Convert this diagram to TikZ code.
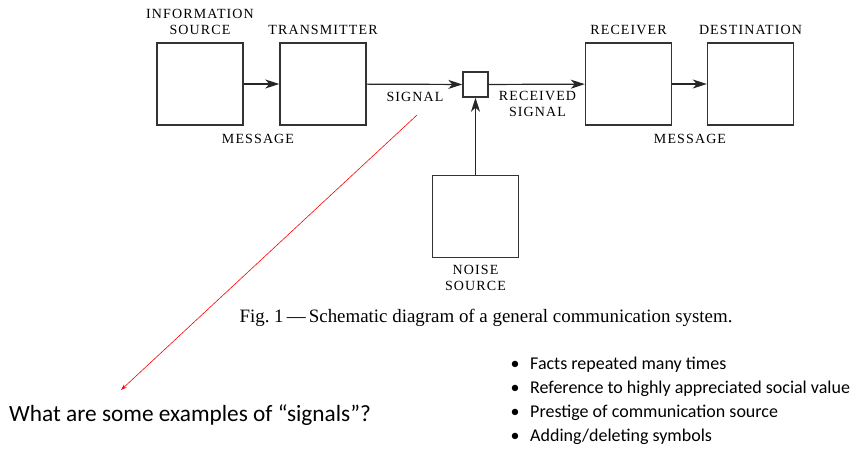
\documentclass[tikz,border=0pt]{standalone}
\usepackage{fontspec}
\setmainfont{Liberation Serif}
\newfontfamily\labelfont[LetterSpace=8]{Liberation Serif}
\newfontfamily\slidefont{Carlito}
\usetikzlibrary{arrows.meta, positioning}

\begin{document}
\begin{tikzpicture}[x = 1pt, y = -1pt,
        block/.style = {draw=black!80, line width=1.4pt, minimum width=86pt, minimum height=82pt, inner sep=0pt},
        junction/.style = {draw=black!80, line width=1.4pt, minimum size=25pt, inner sep=0pt},
        flow/.style = {draw=black!85, line width=1.2pt, -{Stealth[length=14pt, width=9pt, inset=4pt]}},
        caps/.style = {font=\labelfont\fontsize{14}{16}\selectfont, align=center, inner sep=0pt},
        point/.style = {font=\slidefont\fontsize{18}{21}\selectfont, inner sep=0pt}]

    \useasboundingbox (0,0) rectangle (856,463);

    % the blocks of the system
    \node[block] (source) at (200,84) {};
    \node[block] (transmitter) at (323,84) {};
    \node[junction] (channel) at (475.5,84.5) {};
    \node[block] (receiver) at (628.5,84) {};
    \node[block] (destination) at (750.5,84) {};
    \node[block] (noise) at (475.5,216.5) {};

    \node[caps, above=7pt of source] (sourcelabel) {INFORMATION\\SOURCE};
    \node[caps, above=7pt of transmitter] (transmitterlabel) {TRANSMITTER};
    \node[caps, above=7pt of receiver] (receiverlabel) {RECEIVER};
    \node[caps, above=7pt of destination] (destinationlabel) {DESTINATION};
    \node[caps, below=7pt of noise] (noiselabel) {NOISE\\SOURCE};

    \node[caps] (message) at (258,139) {MESSAGE};
    \node[caps] (signal) at (415,97) {SIGNAL};
    \node[caps] (received) at (537.5,103.5) {RECEIVED\\SIGNAL};
    \node[caps] (message2) at (690,139) {MESSAGE};

    \draw[flow] (source) -- (transmitter);
    \draw[flow] (transmitter) -- (channel);
    \draw[flow] (channel) -- (receiver);
    \draw[flow] (receiver) -- (destination);
    \draw[flow] (noise) -- (channel);

    \node[font=\fontsize{18.9}{22}\selectfont] (caption) at (486,318)
        {Fig.~1\,—\,Schematic diagram of a general communication system.};

    % question and the pointer to it
    \node[font=\slidefont\fontsize{23.3}{28}\selectfont, anchor=west, inner sep=0pt] (question) at (9,415)
        {What are some examples of “signals”?};
    \coordinate (pointer) at (417,115);
    \coordinate (tip) at (121,390);
    \draw[red, line width=0.6pt, -{Stealth[length=6pt, width=4pt]}] (pointer) -- (tip);

    \foreach \txt [count=\i] in {Facts repeated many times, Reference to highly appreciated social value,
            Prestige of communication source, Adding/deleting symbols}
    {
        \node[point] (bullet\i) at (515, 341 + 24*\i) {\textbullet};
        \node[point, anchor=west] (item\i) at (530, 341 + 24*\i) {\txt};
    }
\end{tikzpicture}
\end{document}
